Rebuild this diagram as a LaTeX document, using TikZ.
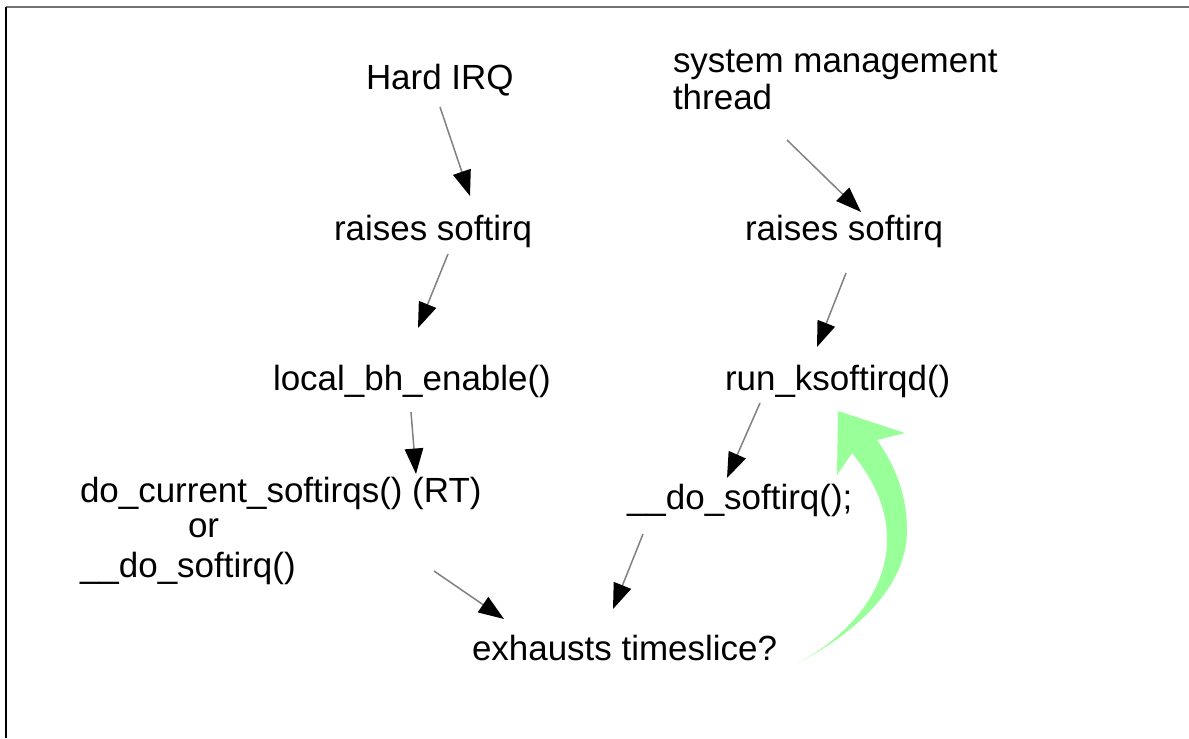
\documentclass[tikz,border=0pt]{standalone}
\usepackage{fontspec}
\setmainfont{Liberation Sans}
\usetikzlibrary{arrows.meta}
\definecolor{flowgray}{RGB}{128,128,128}
\definecolor{loopgreen}{RGB}{153,255,153}
\begin{document}
\begin{tikzpicture}[x=0.02cm,y=-0.02cm,
  label/.style={anchor=base west,inner sep=0pt,outer sep=0pt,
    font=\fontsize{19.9pt}{21pt}\selectfont},
  flow/.style={draw=flowgray,line width=0.85pt,
    -{Triangle[length=14.5pt,width=10.5pt,fill=black,color=black]}}]
  % page extent
  \useasboundingbox (0,0) rectangle (1189,738);
  % slide edges
  \draw[color=black!55,line width=0.9pt] (6,7) -- (1189,7);
  \draw[color=black,line width=0.9pt] (6,7) -- (6,738);

  % texts
  \node[label] (hirq) at (366,89) {Hard IRQ};
  \node[label] (sysm) at (673,72) {system management};
  \node[label] (thr) at (673,109) {thread};
  \node[label] (rsl) at (334,240) {raises softirq};
  \node[label] (rsr) at (745,240) {raises softirq};
  \node[label] (lbh) at (273,390) {local\_bh\_enable()};
  \node[label] (rks) at (725,390) {run\_ksoftirqd()};
  \node[label] (dcs) at (80,502) {do\_current\_softirqs() (RT)};
  \node[label] (orw) at (188,537) {or};
  \node[label] (dsl) at (80,577) {\_\_do\_softirq()};
  \node[label] (dsr) at (627,509) {\_\_do\_softirq();};
  \node[label] (ext) at (472,660) {exhausts timeslice?};

  % connector ends
  \coordinate (a1) at (440,107); \coordinate (b1) at (470,196);
  \coordinate (a2) at (448,254); \coordinate (b2) at (418,328);
  \coordinate (a3) at (411,412); \coordinate (b3) at (416,474);
  \coordinate (a4) at (434,571); \coordinate (b4) at (504,619);
  \coordinate (a5) at (643,534); \coordinate (b5) at (613,609);
  \coordinate (a6) at (787,140); \coordinate (b6) at (861,212);
  \coordinate (a7) at (846,273); \coordinate (b7) at (817,347);
  \coordinate (a8) at (760,403); \coordinate (b8) at (727,478);

  \foreach \i in {1,...,8} \draw[flow] (a\i) -- (b\i);

  % loop back to ksoftirqd
  \fill[loopgreen] (798,663)
    .. controls (860,630) and (907,585) .. (907,530)
    .. controls (907,495) and (895,465) .. (877,440)
    -- (905,433) -- (838,411) -- (837,475) -- (852,453)
    .. controls (872,478) and (887,505) .. (887,540)
    .. controls (887,590) and (850,635) .. (798,663) -- cycle;
\end{tikzpicture}
\end{document}
